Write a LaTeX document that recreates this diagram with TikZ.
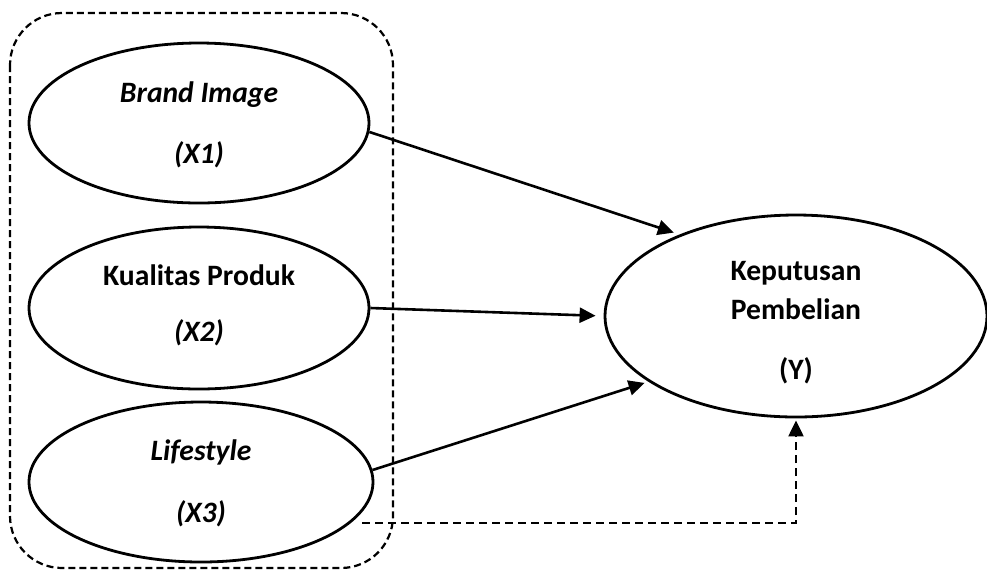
\documentclass[tikz,border=0pt]{standalone}
\usepackage{fontspec}
\setmainfont{Carlito}
\usetikzlibrary{shapes.geometric,arrows.meta}
\begin{document}
\begin{tikzpicture}[x=0.5pt,y=-0.5pt,
  var/.style={draw,ellipse,line width=1.4pt,inner sep=0pt},
  lbl/.style={font=\fontsize{14.8}{16}\selectfont\bfseries,inner sep=0pt,anchor=base},
  arr/.style={line width=1.3pt,-{Triangle[length=8pt,width=7.5pt]}},
  dasharr/.style={line width=1.1pt,dash pattern=on 4pt off 2.5pt,-{Triangle[length=8pt,width=7.5pt]}},
  grp/.style={draw,line width=1.1pt,dash pattern=on 3.5pt off 2pt,rounded corners=26pt}]
\useasboundingbox (0,0) rectangle (987,570);
\draw[grp] (10,13) rectangle (393,568);
\node[var,minimum width=170pt,minimum height=80pt] (E1) at (199,123) {};
\node[var,minimum width=170pt,minimum height=81pt] (E2) at (199,308) {};
\node[var,minimum width=172pt,minimum height=80pt] (E3) at (201,482) {};
\node[var,minimum width=191pt,minimum height=101pt] (Y) at (796,316) {};
\node[lbl] (t1a) at (199,102) {\itshape Brand Image};
\node[lbl] (t1b) at (199,163) {\itshape (X1)};
\node[lbl] (t2a) at (199,285) {Kualitas Produk};
\node[lbl] (t2b) at (199,341) {\itshape (X2)};
\node[lbl] (t3a) at (201,460) {\itshape Lifestyle};
\node[lbl] (t3b) at (201,522) {\itshape (X3)};
\node[lbl] (ya) at (796,280) {Keputusan};
\node[lbl] (yb) at (796,319) {Pembelian};
\node[lbl] (yc) at (796,379) {(Y)};
\coordinate (d0) at (362,523);
\draw[arr,shorten >=3pt] (E1.-3) -- (Y.145);
\draw[arr,shorten >=4pt] (E2.east) -- (Y.west);
\draw[arr,shorten >=2pt] (E3.4) -- (Y.204);
\draw[dasharr,shorten >=1pt] (d0) -| (Y.south);
\end{tikzpicture}
\end{document}
